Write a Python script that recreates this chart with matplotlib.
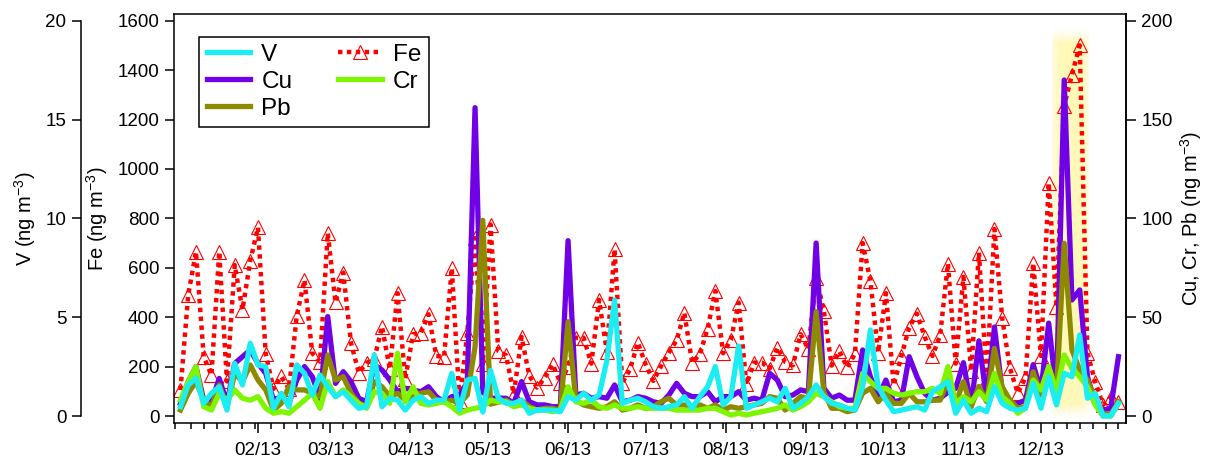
import numpy as np
import pandas as pd
import matplotlib
matplotlib.use("Agg")
import matplotlib.pyplot as plt
import matplotlib.dates as mdates
from datetime import datetime

plt.rcParams['font.family'] = ['Liberation Sans', 'DejaVu Sans']
plt.rcParams['mathtext.default'] = 'regular'

# sampling every 3 days through 2013
dates = pd.date_range("2013-01-02", periods=122, freq="3D")

fe = [105, 490, 665, 240, 165, 665, 140, 611, 430, 628,
      763, 250, 110, 160, 110, 405, 550, 254, 220, 740,
      460, 580, 295, 175, 215, 230, 362, 190, 497, 150,
      331, 335, 412, 243, 240, 598, 60, 335, 720, 210,
      775, 263, 246, 88, 320, 162, 115, 155, 209, 135,
      200, 317, 317, 212, 470, 260, 675, 135, 189, 297,
      209, 142, 202, 257, 306, 418, 216, 250, 354, 506,
      254, 308, 459, 128, 216, 216, 192, 277, 219, 205,
      331, 270, 560, 425, 204, 262, 197, 251, 700, 547,
      257, 497, 124, 243, 358, 414, 321, 243, 327, 617,
      212, 563, 182, 661, 150, 757, 397, 194, 93, 154,
      619, 243, 944, 441, 1256, 1381, 1500, 255, 138, 45,
      77, 55]

cu = [6.4, 17.4, 25, 8, 7.2, 19, 6.4, 26.6, 30, 33.4,
      26.6, 21.6, 8, 9.8, 6.4, 18.2, 25, 19.9, 9, 50.3,
      16.5, 22.4, 17.4, 9, 7.2, 26, 23.3, 18.2, 12.3, 14,
      13.2, 12.3, 14.8, 9.8, 7.2, 9.8, 10.6, 17, 156, 12,
      9, 9, 9, 6.4, 17.4, 7.2, 5.6, 5.6, 4.7, 4.7,
      88.7, 10.6, 11.5, 9, 9.8, 9, 15.7, 7.2, 8, 9.8,
      9, 7.2, 6.4, 10.6, 16.5, 11.5, 9.8, 9.8, 12.3, 7.2,
      9.8, 9.8, 12.3, 8, 9, 8, 21.6, 18.2, 9.8, 10.6,
      13.2, 12.3, 87.5, 14, 9, 10.6, 8, 8, 33.4, 19.9,
      9.8, 18.2, 7.2, 8, 30, 19.9, 11.5, 8, 9, 12,
      14, 27, 5, 38, 8, 45, 13, 5.6, 6.4, 8,
      26, 13, 47, 12, 170, 58.7, 63.8, 19.9, 6.4, 3,
      3.9, 30]

pb = [3, 11.5, 17.4, 8, 4.7, 15.7, 4.7, 21.6, 17.4, 25.8,
      18.2, 13.2, 3, 6.4, 14.8, 13.2, 13.2, 11.5, 9.8, 30.9,
      18.2, 19.9, 11.5, 6.4, 4.7, 17.4, 14.8, 9.8, 11.5, 8,
      9.8, 11.5, 12.3, 8, 7.2, 8, 6.4, 10.6, 35, 99,
      6, 7, 8, 5.6, 8, 4.7, 3, 3.9, 3.9, 3,
      47.7, 8, 5.6, 4.7, 3.9, 4.7, 7.2, 3, 3.9, 5.6,
      3.9, 4.7, 7.2, 9, 5.6, 5.6, 4.7, 5.6, 3.9, 5.6,
      3, 4.7, 3.9, 4.7, 5.6, 6.4, 9.8, 9, 3, 6.4,
      9.8, 9, 52.8, 12, 3.9, 3.9, 2.2, 3, 11.5, 14,
      7.2, 11.5, 6.4, 6.4, 11.5, 7.2, 7.2, 8, 8, 18,
      6.4, 17.4, 4.7, 15, 7.2, 34.2, 14.8, 8, 3.9, 4.7,
      22.4, 10.6, 25, 11.5, 87.4, 33.4, 23.3, 18.2, 8, 1.4,
      0.6, 7.2]

cr = [8, 17.4, 25, 4.7, 3, 11.5, 8, 13.2, 9, 8,
      9.8, 3.9, 1.4, 2.2, 1.4, 4.7, 8, 11.5, 3.9, 17.4,
      9.8, 13.2, 9.8, 6.4, 3.9, 12.3, 11.5, 6.4, 31.7, 7.2,
      14.8, 6.4, 5.6, 6.4, 7.2, 4.7, 1.4, 3, 3.9, 4.7,
      8, 7.2, 7.2, 4.7, 5.6, 3.9, 3, 3, 2.2, 3,
      14.8, 7.2, 6.4, 8, 4.7, 3.9, 5.6, 3.9, 3.9, 4.7,
      3.9, 3.9, 3.9, 3.9, 3, 3, 3, 3, 3.9, 3.9,
      2.2, 0.5, 1.4, 0.5, 1.4, 2.2, 3, 3.9, 5.6, 3,
      4.7, 7.2, 11.5, 9.8, 7.2, 4.7, 3.9, 3.9, 21.6, 17.4,
      14, 14, 11.5, 10.6, 11.5, 12.3, 12.3, 14, 11.5, 25,
      6.4, 9.8, 7.2, 12.3, 8, 21.6, 9.8, 6.4, 1.4, 3.9,
      18.2, 13.2, 25, 12.3, 30.9, 24.1, 19.9, 14.8, 5.6, 0,
      0, 6.4]

v = [0.47, 1.57, 1.91, 0.64, 1.15, 1.48, 0.30, 2.66, 1.57, 3.68,
     2.58, 2.50, 0.39, 1.15, 0.47, 2.58, 2.16, 1.06, 2.07, 1.48,
     0.98, 1.23, 0.80, 0.39, 0.47, 3.09, 0.47, 0.90, 0.80, 0.30,
     0.80, 0.98, 0.64, 0.80, 0.80, 2.16, 0.30, 1.82, 1.90, 0.20,
     2.30, 0.90, 0.64, 0.64, 0.80, 0.14, 0.30, 0.30, 0.30, 0.22,
     0.98, 0.80, 1.15, 0.80, 1.06, 2.80, 5.87, 0.64, 0.80, 0.90,
     0.72, 0.47, 0.39, 0.47, 0.56, 0.98, 0.39, 0.98, 1.48, 2.50,
     0.56, 0.98, 3.54, 0.39, 0.56, 0.72, 0.90, 0.72, 1.40, 0.39,
     0.64, 0.98, 1.57, 0.98, 0.64, 0.56, 0.39, 0.30, 1.48, 4.35,
     1.48, 0.80, 0.22, 0.30, 0.39, 0.47, 0.30, 1.23, 1.48, 1.74,
     0.14, 0.80, 0.14, 0.39, 0.22, 1.48, 0.64, 0.39, 0.30, 0.39,
     1.65, 0.39, 1.99, 0.56, 2.16, 1.99, 4.10, 0.90, 1.15, 0.0,
     0.0, 0.64]

# highlighted episode
hl_start = datetime(2013, 12, 5, 6)
hl_end = datetime(2013, 12, 19, 12)

W, H = 1208, 472
fig = plt.figure(figsize=(W / 100, H / 100), dpi=100)
ax = fig.add_axes([174 / W, 1 - 423 / H, 952 / W, 409 / H])
axr = ax.twinx()
axv = ax.twinx()

c_v, c_cu, c_pb, c_cr, c_fe = '#1AEEF2', '#7000E6', '#8E8A00', '#7FF500', '#FF0000'
lw = 3.8

# soft yellow band
nx, ny = 120, 200
xx = np.linspace(-1, 1, nx)
yy = np.linspace(0, 1, ny)
hx = np.clip(1.0 - np.abs(xx) ** 4, 0, 1)
hy = np.clip(np.minimum(yy, 1 - yy) / 0.04, 0, 1)
alpha = 0.22 + 0.4 * np.outer(hy, hx)
alpha *= np.outer(hy, np.ones(nx))
rgba = np.zeros((ny, nx, 4))
rgba[..., 0] = 1.0
rgba[..., 1] = 0.96
rgba[..., 2] = 0.55
rgba[..., 3] = alpha
ax.imshow(rgba, extent=[mdates.date2num(hl_start), mdates.date2num(hl_end), -20, 1575],
          aspect='auto', origin='lower', interpolation='bilinear', zorder=0)

fe_line, = ax.plot(dates, fe, color=c_fe, lw=3.2, linestyle=(0, (1, 1)),
                   dash_capstyle='butt', marker='^', markersize=10,
                   markerfacecolor='none', markeredgecolor=c_fe,
                   markeredgewidth=0.8, label='Fe', zorder=2)

cu_line, = axr.plot(dates, cu, color=c_cu, lw=lw, solid_joinstyle='round', label='Cu')
pb_line, = axr.plot(dates, pb, color=c_pb, lw=lw, solid_joinstyle='round', label='Pb')
cr_line, = axr.plot(dates, cr, color=c_cr, lw=lw, solid_joinstyle='round', label='Cr')
v_line, = axv.plot(dates, v, color=c_v, lw=lw, solid_joinstyle='round', label='V')

ax.set_xlim(datetime(2012, 12, 30, 12), datetime(2014, 1, 2, 22))
ax.set_ylim(-28.3, 1627)
axr.set_ylim(-3.54, 203.4)
axv.set_ylim(-0.354, 20.34)

ax.set_yticks(np.arange(0, 1601, 200))
axr.set_yticks(np.arange(0, 201, 50))
axv.set_yticks(np.arange(0, 21, 5))

ax.xaxis.set_major_locator(mdates.MonthLocator(bymonth=range(2, 13)))
ax.xaxis.set_major_formatter(mdates.DateFormatter('%m/%y'))
ax.xaxis.set_minor_locator(mdates.DayLocator(bymonthday=[6, 11, 16, 21, 26, 31]))

fs_tick = 13.5
ax.tick_params(axis='x', which='major', direction='out', length=7.5, width=1.1,
               labelsize=fs_tick, pad=6)
ax.tick_params(axis='x', which='minor', direction='out', length=4.2, width=1.1)
ax.tick_params(axis='y', direction='out', length=6.5, width=1.1, labelsize=fs_tick, pad=4)
axr.tick_params(axis='y', direction='out', length=7, width=1.1, labelsize=fs_tick, pad=4)
axv.tick_params(axis='y', direction='out', length=6.5, width=1.1, labelsize=fs_tick, pad=4)

for s in ax.spines.values():
    s.set_linewidth(1.1)
for name in ['left', 'top', 'bottom']:
    axr.spines[name].set_visible(False)
axr.spines['right'].set_linewidth(1.1)

for name in ['right', 'top', 'bottom']:
    axv.spines[name].set_visible(False)
axv.spines['left'].set_visible(True)
axv.spines['left'].set_position(('axes', (81 - 174) / 952))
axv.spines['left'].set_bounds(0, 20)
axv.spines['left'].set_linewidth(1.1)
axv.yaxis.set_ticks_position('left')
axv.yaxis.set_label_position('left')

fs_lab = 14.5
ax.set_ylabel('Fe (ng m$^{-3}$)', fontsize=fs_lab)
ax.yaxis.set_label_coords(-0.0672, 0.5)
axv.set_ylabel('V (ng m$^{-3}$)', fontsize=fs_lab)
axv.yaxis.set_label_coords(-0.1429, 0.5)
axr.set_ylabel('Cu, Cr, Pb (ng m$^{-3}$)', fontsize=fs_lab)
axr.yaxis.set_label_coords(1.0546, 0.5)

handles = [v_line, cu_line, pb_line, fe_line, cr_line]
leg = axv.legend(handles, [h.get_label() for h in handles], ncol=2,
                 loc='upper left', bbox_to_anchor=(0.0266, 0.9445), borderaxespad=0,
                 fontsize=17.5, frameon=True, fancybox=False, edgecolor='black',
                 framealpha=1, handlelength=1.8, handletextpad=0.45,
                 columnspacing=1.9, labelspacing=0.2, borderpad=0.3)
leg.get_frame().set_linewidth(1.1)

fig.savefig('out.png', dpi=100)
